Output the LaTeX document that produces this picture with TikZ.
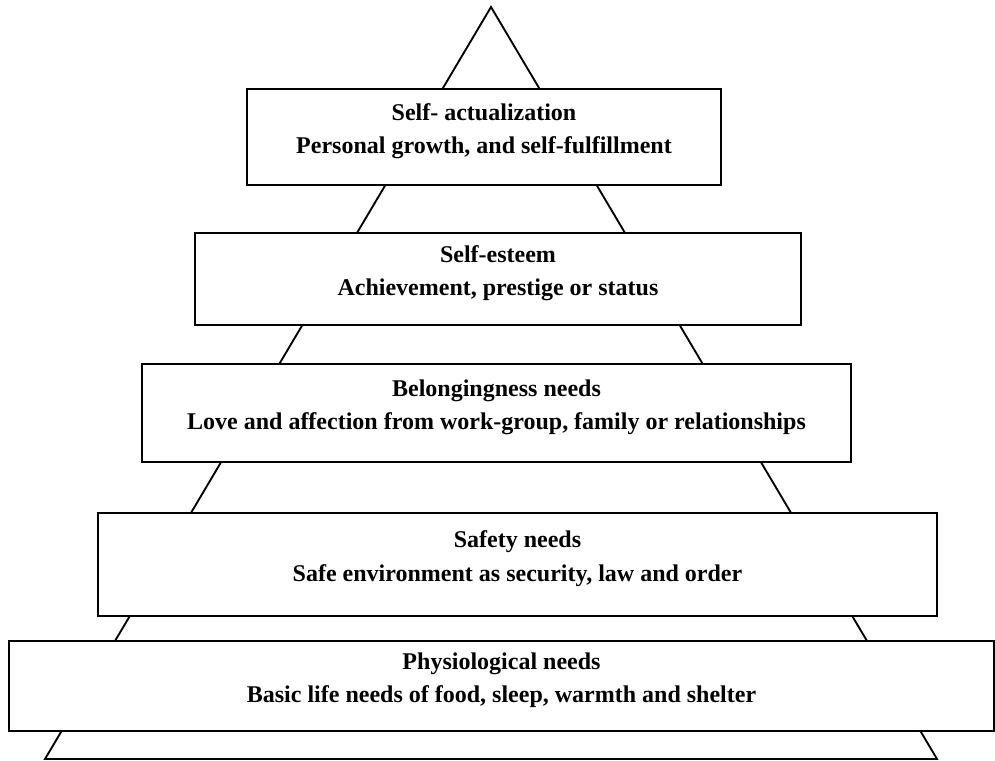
\documentclass[tikz,border=0pt]{standalone}
\usepackage{fontspec}
\setmainfont{Liberation Serif}
\begin{document}
\begin{tikzpicture}[x=0.75pt,y=-0.75pt,
  pbox/.style={draw=black,line width=1.4pt,fill=white,inner sep=0pt,rectangle},
  ptext/.style={anchor=center,align=center,inner sep=0pt,font=\fontsize{18}{25}\selectfont\bfseries},
  leg/.style={draw=black,line width=1.4pt}]
\useasboundingbox (0,0) rectangle (995,760);
\coordinate (apex) at (491,7);
\coordinate (bl) at (45,759);
\coordinate (br) at (937,759);
\draw[leg] (bl) -- (apex) -- (br) -- cycle;
% boxes
\node[pbox,minimum width=474*0.75pt,minimum height=96*0.75pt] (b1) at (484,137) {};
\node[pbox,minimum width=606*0.75pt,minimum height=92*0.75pt] (b2) at (498,279) {};
\node[pbox,minimum width=709*0.75pt,minimum height=98*0.75pt] (b3) at (496.5,413) {};
\node[pbox,minimum width=839*0.75pt,minimum height=103*0.75pt] (b4) at (517.5,564.5) {};
\node[pbox,minimum width=985*0.75pt,minimum height=90*0.75pt] (b5) at (501.5,686) {};
% texts
\node[ptext,yshift=6*0.75pt] (t1) at (b1.center) {Self- actualization\\Personal growth, and self-fulfillment};
\node[ptext,yshift=6*0.75pt] (t2) at (b2.center) {Self-esteem\\Achievement, prestige or status};
\node[ptext,yshift=6*0.75pt] (t3) at (b3.center) {Belongingness needs\\Love and affection from work-group, family or relationships};
\node[ptext,yshift=6*0.75pt] (t4) at (b4.center) {Safety needs\\Safe environment as security, law and order};
\node[ptext,yshift=6*0.75pt] (t5) at (b5.center) {Physiological needs\\Basic life needs of food, sleep, warmth and shelter};
\end{tikzpicture}
\end{document}
